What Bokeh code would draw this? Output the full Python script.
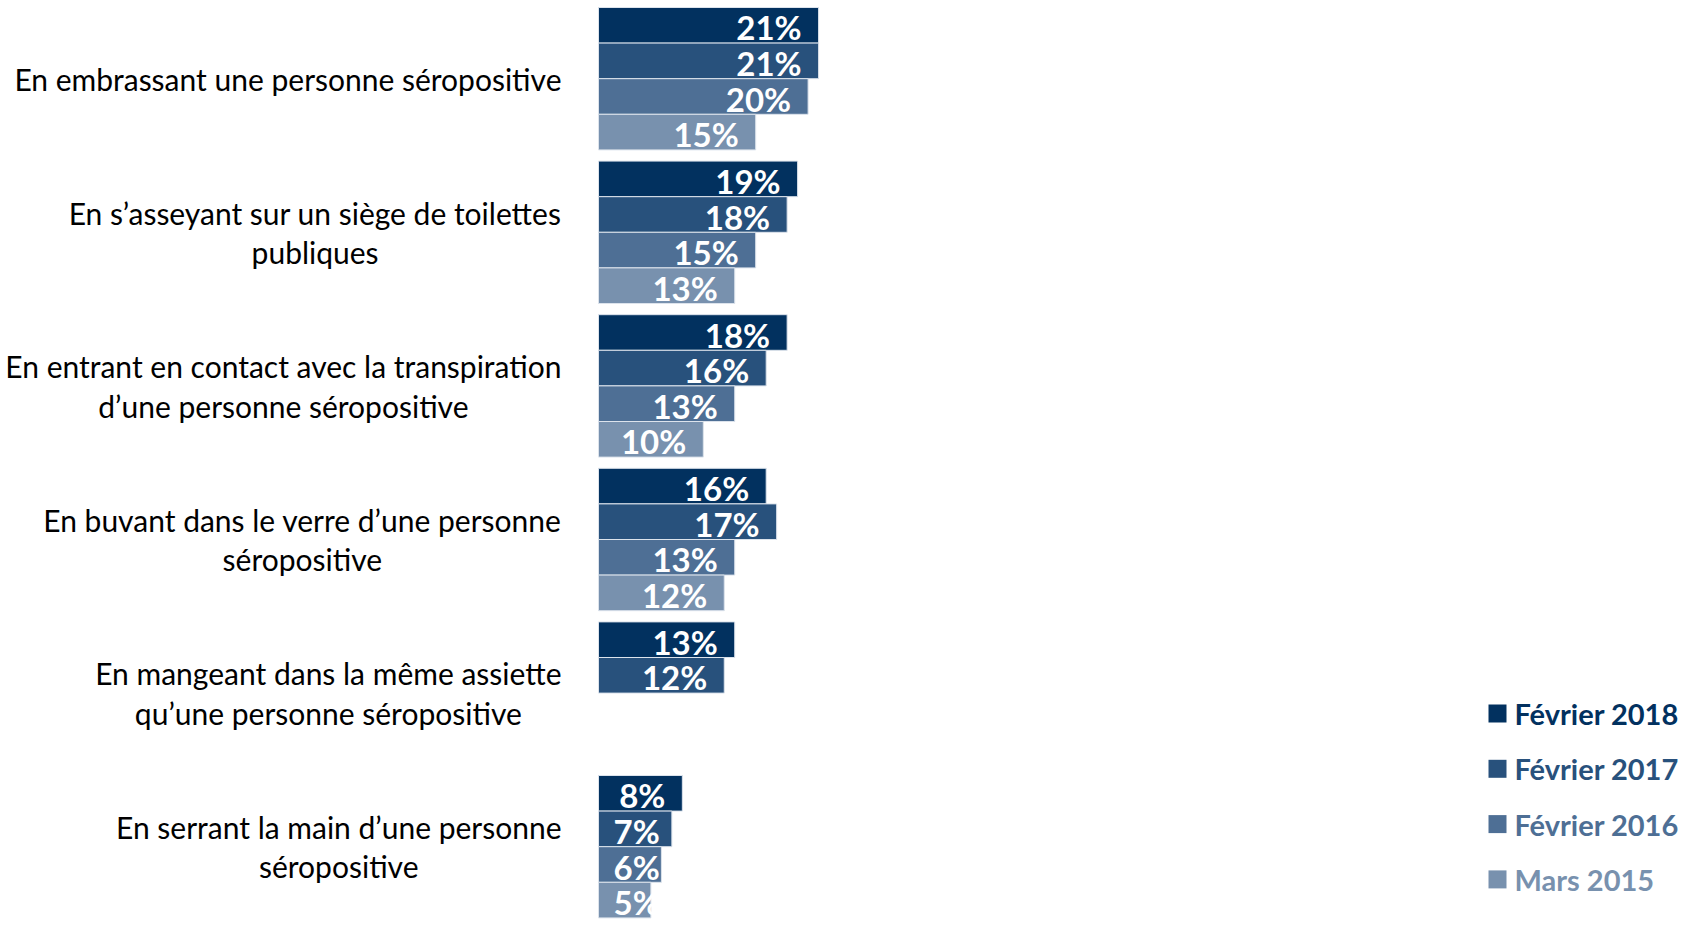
from bokeh.plotting import figure
from bokeh.models import Range1d, ColumnDataSource
from bokeh.core.properties import value
from bokeh.embed import file_html
from bokeh.resources import INLINE

# ---------------- data ----------------
categories = [
    "En embrassant une personne séropositive",
    "En s’asseyant sur un siège de toilettes\npubliques",
    "En entrant en contact avec la transpiration\nd’une personne séropositive",
    "En buvant dans le verre d’une personne\nséropositive",
    "En mangeant dans la même assiette\nqu’une personne séropositive",
    "En serrant la main d’une personne\nséropositive",
]
series_names = ["Février 2018", "Février 2017", "Février 2016", "Mars 2015"]
fev2018 = [21, 19, 18, 16, 13, 8]
fev2017 = [21, 18, 16, 17, 12, 7]
fev2016 = [20, 15, 13, 13, None, 6]
mars2015 = [15, 13, 10, 12, None, 5]
series_values = [fev2018, fev2017, fev2016, mars2015]
colors = ["#02315f", "#28517c", "#4e6f95", "#7891ae"]

# ---------------- layout ----------------
W, H = 1680, 922
px_per_pct = 10.48
x0_px = 598.0
group_px = 153.6
bar_px = 35.6
first_top_px = 7.0
first_center_px = first_top_px + 2 * bar_px
y_top = -first_center_px / group_px
bar_h = bar_px / group_px
FONT = "Lato"
val_fs = 33


def px_x(px):
    return (px - x0_px) / px_per_pct


def px_y(py):
    return y_top + py / group_px


p = figure(width=W, height=H, output_backend="svg", toolbar_location=None,
           x_range=Range1d(px_x(0), px_x(W)),
           y_range=Range1d(px_y(H), px_y(0)),
           min_border=0, min_border_left=0, min_border_right=0,
           min_border_top=0, min_border_bottom=0)
p.axis.visible = False
p.grid.visible = False
p.outline_line_color = None
p.background_fill_color = "white"
p.border_fill_color = "white"

label_sets = []
for j, (vals, col) in enumerate(zip(series_values, colors)):
    ys, rights, labels = [], [], []
    for i, v in enumerate(vals):
        if v is None:
            continue
        ys.append(i + (j - 1.5) * bar_h)
        rights.append(v)
        labels.append(f"{v}%")
    src = ColumnDataSource(dict(y=ys, right=rights))
    p.hbar(y="y", left=0, right="right", height=bar_h, source=src,
           fill_color=col, line_color="#dce3ec", line_width=1)
    label_sets.append((ys, rights, labels))

# value labels drawn after all bars
for ys, rights, labels in label_sets:
    r_idx, l_idx = [], []
    for k, v in enumerate(rights):
        est_w = (0.58 * len(str(v)) + 0.85) * val_fs
        if v * px_per_pct - 17 - est_w < 17:
            l_idx.append(k)
        else:
            r_idx.append(k)
    for idx, align, use_zero, off in ((r_idx, "right", False, -17), (l_idx, "left", True, 15)):
        if not idx:
            continue
        s = ColumnDataSource(dict(
            x=[0 if use_zero else rights[k] for k in idx],
            y=[ys[k] for k in idx],
            t=[labels[k] for k in idx]))
        p.text(x="x", y="y", text="t", source=s, text_align=align,
               text_baseline="middle", x_offset=off, y_offset=2,
               text_color="white", text_font=value(FONT),
               text_font_style="bold", text_font_size=f"{val_fs}px")

# category labels
cat_src = ColumnDataSource(dict(x=[px_x(561)] * len(categories),
                                y=list(range(len(categories))),
                                t=categories))
p.text(x="x", y="y", text="t", source=cat_src, anchor="center_right",
       text_align="center", text_baseline="middle", text_color="#000000",
       text_font=value(FONT), text_font_size="30px", text_line_height=1.1)

# legend
leg_y = [px_y(713 + 55.3 * k) for k in range(4)]
p.scatter(x=[px_x(1497)] * 4, y=leg_y, marker="square", size=18,
          fill_color=colors, line_color=None)
leg_src = ColumnDataSource(dict(x=[px_x(1514)] * 4, y=leg_y, t=series_names,
                                c=colors))
p.text(x="x", y="y", text="t", source=leg_src, text_color="c",
       text_align="left", text_baseline="middle", text_font=value(FONT),
       text_font_style="bold", text_font_size="29px")

open("out.html", "w").write(file_html(p, INLINE))
